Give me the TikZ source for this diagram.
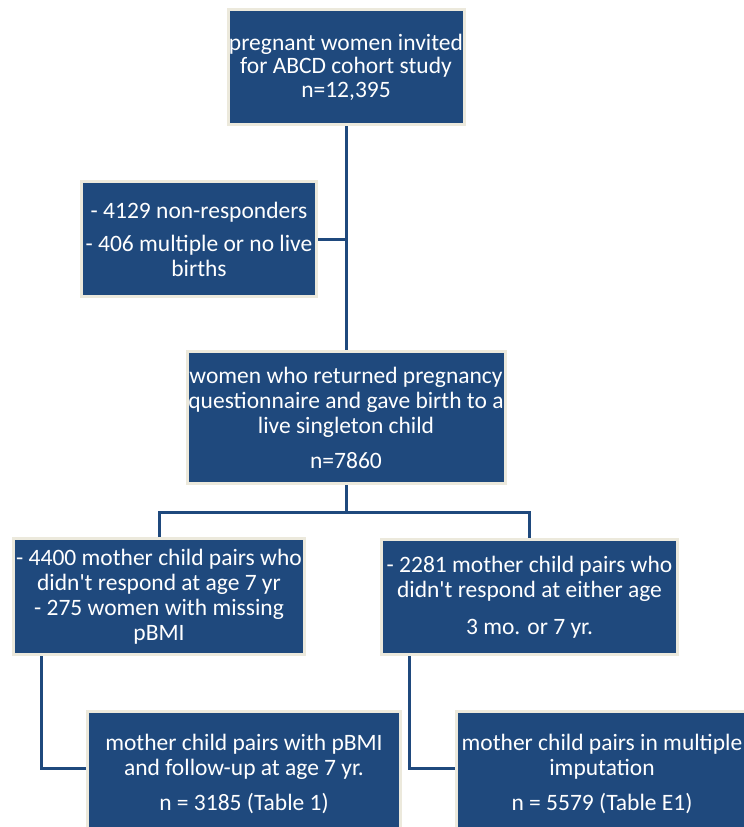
\documentclass[tikz,border=0pt]{standalone}
\usepackage{fontspec}
\setmainfont{Carlito}
\usepackage{tikz}
\usetikzlibrary{positioning}
\definecolor{boxblue}{RGB}{31,73,125}
\definecolor{boxrim}{RGB}{236,233,220}
\tikzstyle{block} = [rectangle, draw=boxrim, line width=3pt, fill=boxblue,
    text=white, inner sep=0pt, font=\fontsize{23.5}{25}\selectfont]
\tikzstyle{line} = [draw=boxblue, line width=3pt]

\begin{document}
\begin{tikzpicture}[x=1pt, y=1pt, align=center, node distance=175pt]
    \useasboundingbox (0,0) rectangle (744,-827);
    \clip (0,0) rectangle (744,-827);
    % Place nodes
    \node [block, minimum width=236pt, minimum height=115pt, font=\fontsize{23.5}{23.5}\selectfont] (invite) at (346,-67) {pregnant women invited\\for ABCD cohort study\\n=12,395};
    \node [block, minimum width=235pt, minimum height=115pt, below of=invite, xshift=-147pt, yshift=3pt] (excluded) {- 4129 non-responders\\[8pt]- 406 multiple or no live\\births};
    \node [block, minimum width=318pt, minimum height=132pt, below of=invite, node distance=350.5pt] (women) {women who returned pregnancy\\questionnaire and gave birth to a\\live singleton child\\[10pt]n=7860};
    \node [block, minimum width=291pt, minimum height=116pt, below of=women, xshift=-187pt, yshift=-4pt] (nofollow) {- 4400 mother child pairs who\\didn\textquotesingle t respond at age 7 yr\\- 275 women with missing\\pBMI};
    \node [block, minimum width=296pt, minimum height=115pt, below of=women, xshift=183.5pt, yshift=-4.5pt] (noresp) {- 2281 mother child pairs who\\didn\textquotesingle t respond at either age\\[12pt]3 mo. or 7 yr.};
    \node [block, minimum width=313pt, minimum height=125pt, below of=nofollow, xshift=85pt, yshift=-2.5pt] (analysed) {mother child pairs with pBMI\\and follow-up at age 7 yr.\\[10pt]n = 3185 (Table 1)};
    \node [block, minimum width=291pt, minimum height=125pt, below of=noresp, xshift=72.5pt, yshift=-2pt] (imputed) {mother child pairs in multiple\\imputation\\[10pt]n = 5579 (Table E1)};
    \coordinate [below of=women, node distance=94.5pt] (split);
    % Draw edges
    \path [line] (invite) -- (women);
    \path [line] (excluded.east) -- (excluded.east -| invite.south);
    \path [line] (women) -- (split);
    \path [line] (nofollow.north) |- (split) -| (noresp.north);
    \path [line] ([xshift=29pt]nofollow.south west) |- ([yshift=6pt]analysed.west);
    \path [line] ([xshift=29pt]noresp.south west) |- ([yshift=6pt]imputed.west);

\end{tikzpicture}
\end{document}
